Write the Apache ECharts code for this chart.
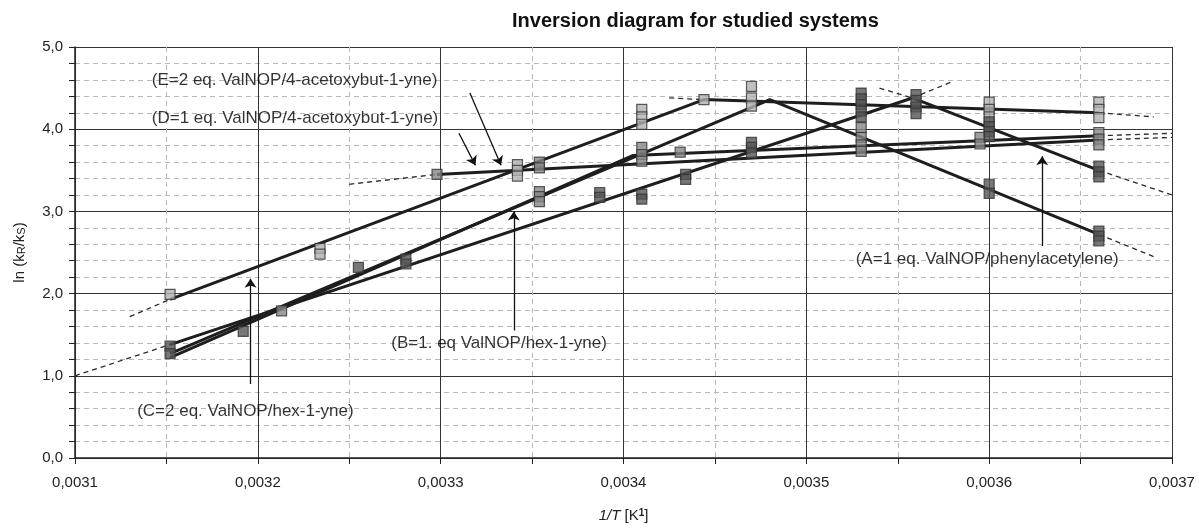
<!DOCTYPE html>
<html>
<head>
<meta charset="utf-8">
<script src="https://cdn.jsdelivr.net/npm/echarts@6/dist/echarts.min.js"></script>
<style>
  html, body { margin: 0; background: #fff; }
  #chart { width: 1199px; height: 528px; }
</style>
</head>
<body>
<div id="chart"></div>
<script>
// measured points, x = 1/T, y = ln(kR/kS), split by marker shade
var lightPoints = [
  [0.003152, 1.99], [0.003234, 2.55], [0.003234, 2.48],
  [0.003342, 3.57], [0.003342, 3.50], [0.003342, 3.43],
  [0.00341, 4.24], [0.00341, 4.15], [0.00341, 4.06],
  [0.003444, 4.36], [0.00347, 4.52], [0.00347, 4.38], [0.00347, 4.28],
  [0.0036, 4.33], [0.0036, 4.24], [0.0036, 4.15],
  [0.00366, 4.33], [0.00366, 4.24], [0.00366, 4.14]
];
var midPoints = [
  [0.003213, 1.79], [0.003298, 3.45], [0.003354, 3.60], [0.003354, 3.53],
  [0.003354, 3.24], [0.003354, 3.18], [0.003354, 3.12],
  [0.00341, 3.78], [0.00341, 3.69], [0.00341, 3.61], [0.003431, 3.72],
  [0.00353, 4.02], [0.00353, 3.90], [0.00353, 3.81], [0.00353, 3.73],
  [0.003595, 3.90], [0.003595, 3.82],
  [0.00366, 3.96], [0.00366, 3.88], [0.00366, 3.81]
];
var darkPoints = [
  [0.003152, 1.36], [0.003152, 1.27], [0.003192, 1.54], [0.003255, 2.32],
  [0.003281, 2.42], [0.003281, 2.36], [0.003387, 3.23], [0.003387, 3.17],
  [0.00341, 3.21], [0.00341, 3.15], [0.003434, 3.45], [0.003434, 3.39],
  [0.00347, 3.84], [0.00347, 3.78], [0.00347, 3.71],
  [0.00353, 4.44], [0.00353, 4.37], [0.00353, 4.30], [0.00353, 4.22], [0.00353, 4.15],
  [0.00356, 4.42], [0.00356, 4.35], [0.00356, 4.27], [0.00356, 4.19],
  [0.0036, 4.09], [0.0036, 4.03], [0.0036, 3.97], [0.0036, 3.91],
  [0.0036, 3.33], [0.0036, 3.22],
  [0.00366, 3.55], [0.00366, 3.48], [0.00366, 3.42],
  [0.00366, 2.76], [0.00366, 2.70], [0.00366, 2.64]
];

// fitted lines (solid) for each system
var fitA = [[0.003152, 1.38], [0.003558, 4.38], [0.00366, 3.50]];
var fitB = [[0.003152, 1.22], [0.003405, 3.68], [0.00366, 3.92]];
var fitC = [[0.003152, 1.27], [0.00348, 4.36], [0.00366, 2.72]];
var fitD = [[0.003298, 3.45], [0.00366, 3.87]];
var fitE = [[0.003152, 1.93], [0.003444, 4.36], [0.00366, 4.20]];

// extrapolated parts (dashed)
var extLines = [
  [[0.0031, 1.0], [0.003152, 1.38]],
  [[0.003558, 4.38], [0.00358, 4.58]],
  [[0.00354, 4.50], [0.003558, 4.38]],
  [[0.00366, 3.50], [0.0037, 3.20]],
  [[0.00366, 3.92], [0.0037, 3.95]],
  [[0.00366, 2.72], [0.00369, 2.45]],
  [[0.00325, 3.33], [0.003298, 3.45]],
  [[0.00366, 3.87], [0.0037, 3.90]],
  [[0.00313, 1.72], [0.003152, 1.93]],
  [[0.003425, 4.38], [0.003444, 4.36]],
  [[0.00366, 4.20], [0.00369, 4.15]]
];

// annotations
var noteText = [
  '(E=2 eq. ValNOP/4-acetoxybut-1-yne)',
  '(D=1 eq. ValNOP/4-acetoxybut-1-yne)',
  '(B=1. eq ValNOP/hex-1-yne)',
  '(C=2 eq. ValNOP/hex-1-yne)',
  '(A=1 eq. ValNOP/phenylacetylene)'
];
var notePos = [[0.003142, 4.6], [0.003142, 4.13], [0.003273, 1.39], [0.003134, 0.57], [0.003527, 2.42]];
var arrows = [
  [[0.003316, 4.44], [0.003333, 3.56]],
  [[0.00331, 3.95], [0.003319, 3.56]],
  [[0.00334, 1.55], [0.00334, 3.0]],
  [[0.003196, 0.9], [0.003196, 2.18]],
  [[0.003629, 2.58], [0.003629, 3.67]]
];

var font = 'Liberation Sans, Arial, sans-serif';

function solid(d) {
  return {
    type: 'line', data: d, showSymbol: false, silent: true, z: 3,
    lineStyle: { color: '#1e1e1e', width: 3 }
  };
}
function dashed(d) {
  return {
    type: 'line', data: d, showSymbol: false, silent: true, z: 3,
    lineStyle: { color: '#2a2a2a', width: 1.3, type: [5, 4] }
  };
}
function dots(d, fill) {
  return {
    type: 'scatter', data: d, symbol: 'rect', symbolSize: [10, 10], z: 4,
    itemStyle: { color: fill, borderColor: '#333', borderWidth: 1.2 }
  };
}

var series = [];
[fitA, fitB, fitC, fitD, fitE].forEach(function (f) { series.push(solid(f)); });
extLines.forEach(function (f) { series.push(dashed(f)); });
series.push(dots(lightPoints, '#b0b0b0'));
series.push(dots(midPoints, '#868686'));
series.push(dots(darkPoints, '#555'));
series.push({
  type: 'lines', coordinateSystem: 'cartesian2d', z: 5,
  symbol: ['none', 'arrow'], symbolSize: 9,
  lineStyle: { color: '#111', width: 1.3, opacity: 1 },
  data: arrows.map(function (a) { return { coords: a }; })
});
series.push({
  type: 'scatter', symbolSize: 0, z: 6, silent: true,
  data: notePos.map(function (p, i) { return { value: p, name: noteText[i] }; }),
  label: {
    show: true, position: 'right', distance: 0, formatter: '{b}',
    fontFamily: font, fontSize: 17, color: '#000'
  }
});

var chart = echarts.init(document.getElementById('chart'));
chart.setOption({
  backgroundColor: '#fff',
  animation: false,
  title: {
    text: 'Inversion diagram for studied systems',
    left: 507, top: 6,
    textStyle: { fontFamily: font, fontSize: 20, fontWeight: 'bold', color: '#111' }
  },
  grid: { left: 75, right: 27, top: 47, bottom: 68 },
  xAxis: {
    type: 'value', min: 0.0031, max: 0.0037, interval: 0.0001,
    name: '{i|1/T} [K{s|1}]', nameLocation: 'middle', nameGap: 50,
    nameTextStyle: {
      fontFamily: font, fontSize: 15, color: '#222',
      rich: {
        i: { fontFamily: font, fontSize: 15, fontStyle: 'italic', color: '#222' },
        s: { fontFamily: font, fontSize: 10, fontWeight: 'bold', verticalAlign: 'top', color: '#222' }
      }
    },
    axisLine: { lineStyle: { color: '#222', width: 1.5 } },
    axisTick: { show: true, length: 6, lineStyle: { color: '#222' } },
    minorTick: { show: true, splitNumber: 2, length: 6, lineStyle: { color: '#222' } },
    axisLabel: {
      fontFamily: font, fontSize: 15, color: '#222', margin: 17,
      formatter: function (v) { return v.toFixed(4).replace('.', ','); }
    },
    splitLine: { show: true, lineStyle: { color: '#333', width: 1 } },
    minorSplitLine: { show: true, lineStyle: { color: '#b8b8b8', type: [5, 4] } }
  },
  yAxis: {
    type: 'value', min: 0, max: 5, interval: 1,
    name: 'ln (k{s|R}/k{s|S})', nameLocation: 'middle', nameGap: 48,
    nameTextStyle: {
      fontFamily: font, fontSize: 15, color: '#222',
      rich: { s: { fontFamily: font, fontSize: 11, color: '#222', verticalAlign: 'bottom' } }
    },
    axisLine: { show: true, lineStyle: { color: '#222', width: 1.5 } },
    axisTick: { show: true, length: 6, lineStyle: { color: '#222' } },
    minorTick: { show: true, splitNumber: 5, length: 6, lineStyle: { color: '#222' } },
    axisLabel: {
      fontFamily: font, fontSize: 15, color: '#222', margin: 12,
      formatter: function (v) { return v.toFixed(1).replace('.', ','); }
    },
    splitLine: { show: true, lineStyle: { color: '#333', width: 1 } },
    minorSplitLine: { show: true, lineStyle: { color: '#b8b8b8', type: [5, 4] } }
  },
  series: series
});
</script>
</body>
</html>
